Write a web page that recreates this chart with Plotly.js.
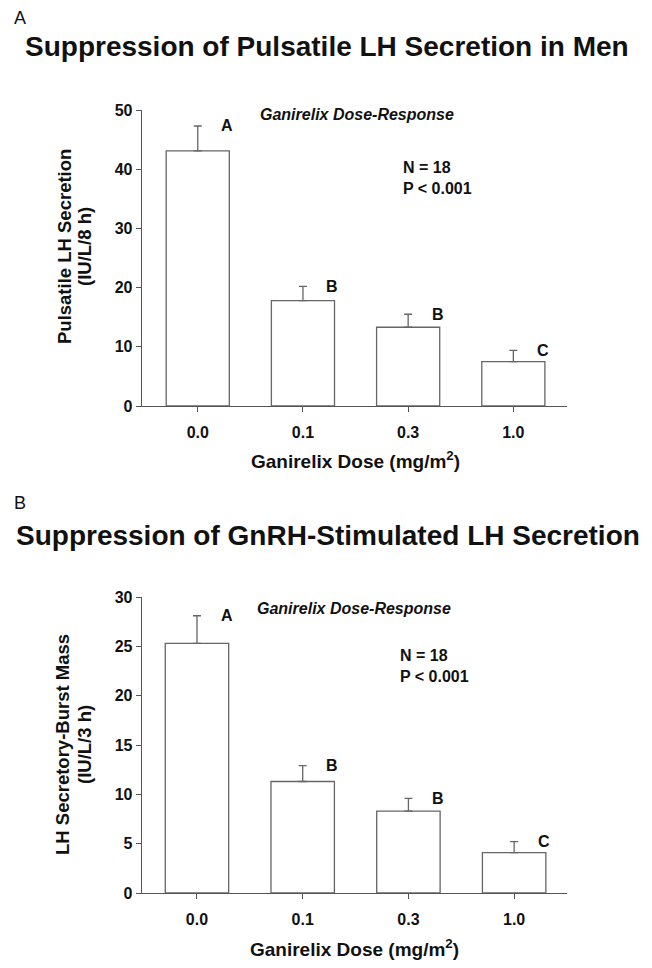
<!DOCTYPE html>
<html>
<head>
<meta charset="utf-8">
<script src="https://cdn.plot.ly/plotly-3.0.1.min.js"></script>
<style>
  html, body { margin: 0; padding: 0; background: #fff; }
  #chart { width: 652px; height: 968px; }
</style>
</head>
<body>
<div id="chart"></div>
<script>
// ============ DATA ============
const DOSES = ['0.0', '0.1', '0.3', '1.0'];
const PULSATILE_MEAN = [43.1, 17.8, 13.3, 7.5];
const PULSATILE_SEM = [4.2, 2.4, 2.2, 1.9];
const BURST_MEAN = [25.3, 11.3, 8.3, 4.1];
const BURST_SEM = [2.8, 1.6, 1.3, 1.1];
const GROUP_LETTERS = ['A', 'B', 'B', 'C'];

const FONT = 'Liberation Sans, Arial, sans-serif';
const AXIS_COLOR = '#555';
const W = 652, H = 968;
const px = v => v / W;
const py = v => 1 - v / H;

function barTrace(mean, sem, xa, ya){
  return {
    x: DOSES.map((d, i) => i), y: mean, type: 'bar', xaxis: xa, yaxis: ya,
    width: 0.6,
    marker: { color: '#fff', line: { color: '#666', width: 1.3 } },
    error_y: { type: 'data', symmetric: false, array: sem, arrayminus: sem.map(() => 0),
               color: '#666', thickness: 1.3, width: 4 },
    hoverinfo: 'skip', showlegend: false
  };
}

function letterNotes(mean, sem, xa, ya){
  return GROUP_LETTERS.map((l, i) => ({
    text: '<b>' + l + '</b>', x: i + 0.28, y: mean[i] + sem[i], xref: xa, yref: ya,
    showarrow: false, xanchor: 'center', yanchor: 'middle',
    font: { family: FONT, size: 16, color: '#111' }
  }));
}

function xAxis(range, anchor){
  return {
    domain: [px(142), px(567)], range: range, anchor: anchor,
    tickvals: [0, 1, 2, 3], ticktext: DOSES,
    showline: true, linecolor: AXIS_COLOR, linewidth: 1.3,
    ticks: 'outside', ticklen: 5, tickcolor: AXIS_COLOR, ticklabelstandoff: 6,
    showgrid: false, zeroline: false, fixedrange: true,
    tickfont: { family: FONT, size: 16, color: '#111', weight: 'bold' }
  };
}

function yAxis(domain, range, dtick, anchor){
  return {
    domain: domain, range: range, dtick: dtick, anchor: anchor,
    showline: true, linecolor: AXIS_COLOR, linewidth: 1.3,
    ticks: 'outside', ticklen: 5, tickcolor: AXIS_COLOR,
    showgrid: false, zeroline: false, fixedrange: true,
    tickfont: { family: FONT, size: 16, color: '#111', weight: 'bold' }
  };
}

function paperText(text, x, y, size, extra){
  return Object.assign({
    text: text, x: x, y: y, xref: 'paper', yref: 'paper', showarrow: false,
    xanchor: 'center', yanchor: 'middle',
    font: { family: FONT, size: size, color: '#111' }
  }, extra || {});
}

const traces = [
  barTrace(PULSATILE_MEAN, PULSATILE_SEM, 'x', 'y'),
  barTrace(BURST_MEAN, BURST_SEM, 'x2', 'y2')
];

const annotations = [
  // panel A
  paperText('A', px(20), py(18), 18),
  paperText('<b>Suppression of Pulsatile LH Secretion in Men</b>', px(327), py(46), 28),
  paperText('<b><i>Ganirelix Dose-Response</i></b>', px(357), py(114), 16),
  paperText('<b>N = 18<br>P &lt; 0.001</b>', px(401), py(178), 16, { xanchor: 'left', align: 'left' }),
  paperText('<b>Pulsatile LH Secretion</b>', px(64), py(247), 18.5, { textangle: -90 }),
  paperText('<b>(IU/L/8 h)</b>', px(84), py(247), 18.5, { textangle: -90 }),
  paperText('<b>Ganirelix Dose (mg/m<sup>2</sup>)</b>', px(355), py(460), 19),
  // panel B
  paperText('B', px(20), py(503), 18),
  paperText('<b>Suppression of GnRH-Stimulated LH Secretion</b>', px(328), py(535), 28),
  paperText('<b><i>Ganirelix Dose-Response</i></b>', px(354), py(608), 16),
  paperText('<b>N = 18<br>P &lt; 0.001</b>', px(398), py(666), 16, { xanchor: 'left', align: 'left' }),
  paperText('<b>LH Secretory-Burst Mass</b>', px(62), py(745), 18.5, { textangle: -90 }),
  paperText('<b>(IU/L/3 h)</b>', px(84), py(745), 18.5, { textangle: -90 }),
  paperText('<b>Ganirelix Dose (mg/m<sup>2</sup>)</b>', px(354), py(948), 19)
].concat(letterNotes(PULSATILE_MEAN, PULSATILE_SEM, 'x', 'y'))
 .concat(letterNotes(BURST_MEAN, BURST_SEM, 'x2', 'y2'));

const layout = {
  width: W, height: H,
  margin: { l: 0, r: 0, t: 0, b: 0 },
  paper_bgcolor: '#fff', plot_bgcolor: '#fff',
  font: { family: FONT, color: '#111' },
  xaxis: xAxis([-0.53, 3.51], 'y'),
  yaxis: yAxis([py(406), py(110)], [0, 50], 10, 'x'),
  xaxis2: xAxis([-0.52, 3.5], 'y2'),
  yaxis2: yAxis([py(893), py(597)], [0, 30], 5, 'x2'),
  annotations: annotations
};

Plotly.newPlot('chart', traces, layout, { displayModeBar: false, staticPlot: true });
</script>
</body>
</html>
